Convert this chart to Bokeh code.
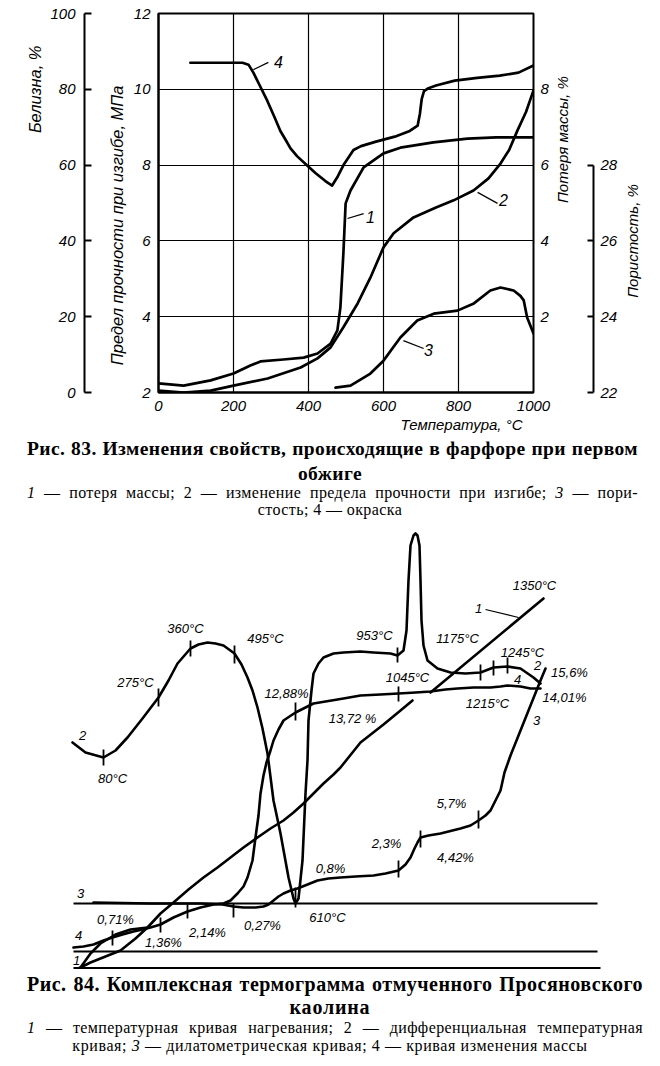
from math import pi
from bokeh.plotting import figure
from bokeh.models import Range1d, LinearAxis, FixedTicker, Div, Title
from bokeh.core.properties import value
from bokeh.embed import file_html
from bokeh.resources import INLINE

FONT = "Liberation Sans"

# ---------------- Fig. 83 data ----------------
temp_ticks = [0, 200, 400, 600, 800, 1000]
strength_ticks = [2, 4, 6, 8, 10, 12]
whiteness_ticks = [0, 20, 40, 60, 80, 100]
loss_ticks = [2, 4, 6, 8]
porosity_ticks = [22, 24, 26, 28]

# 1 - mass loss, %
loss_t = [0, 67, 139, 200, 245, 272, 333, 387, 424, 459, 477, 485, 493, 499, 512, 547, 600, 645, 733, 824, 900, 1000]
loss_v = [0.24, 0.18, 0.32, 0.5, 0.71, 0.82, 0.87, 0.92, 1.03, 1.29, 1.64, 2.24, 3.67, 4.99, 5.33, 5.94, 6.31, 6.46, 6.6, 6.7, 6.73, 6.73]
# 2 - bending strength, MPa
str_t = [0, 67, 139, 200, 291, 379, 424, 459, 493, 531, 565, 600, 627, 680, 740, 787, 840, 880, 912, 935, 957, 980, 1000]
str_v = [2.05, 2.0, 2.05, 2.18, 2.37, 2.66, 2.9, 3.19, 3.72, 4.35, 5.03, 5.83, 6.2, 6.62, 6.88, 7.07, 7.33, 7.65, 8.04, 8.4, 8.91, 9.4, 9.97]
# 3 - porosity, %
por_t = [472, 512, 565, 600, 645, 690, 734, 797, 841, 885, 912, 947, 965, 974, 983, 1000]
por_v = [22.13, 22.18, 22.5, 22.84, 23.45, 23.9, 24.08, 24.16, 24.35, 24.69, 24.77, 24.69, 24.55, 24.43, 23.98, 23.56]
# 4 - colour (whiteness), %
wh_t = [85, 150, 224, 240, 253, 270, 290, 310, 325, 340, 352, 370, 395, 420, 445, 463, 478, 495, 520, 540, 580, 630, 670, 691, 697, 702, 708, 720, 740, 790, 850, 910, 960, 1000]
wh_v = [87, 87, 87, 86.5, 84.4, 81, 77, 72.5, 69, 66.5, 64.4, 62.3, 60, 57.8, 55.8, 54.6, 57, 60.3, 64, 65, 66.2, 67.5, 69, 70.4, 73.5, 77.5, 79.5, 80.3, 81, 82.3, 83, 83.6, 84.4, 86.3]

# curve number labels (temperature, MPa scale)
num_text = ["4", "1", "2", "3"]
num_t = [320, 565, 920, 720]
num_v = [10.71, 6.62, 7.07, 3.11]
lead_t = [[253, 293], [504, 547], [851, 904], [653, 707]]
lead_v = [[10.52, 10.71], [6.59, 6.72], [7.28, 6.99], [3.37, 3.16]]

p1 = figure(width=660, height=437, x_range=Range1d(0, 1000), y_range=Range1d(0, 100),
            output_backend="svg", toolbar_location=None,
            min_border_left=158, min_border_right=127, min_border_top=13, min_border_bottom=45)
p1.extra_y_ranges = {"mpa": Range1d(2, 12), "loss": Range1d(0, 10), "por": Range1d(22, 32)}
p1.outline_line_color = "black"
p1.outline_line_width = 2


def style_axis(ax, standoff):
    ax.major_label_text_font = FONT
    ax.major_label_text_font_style = "italic"
    ax.major_label_text_font_size = "15px"
    ax.major_label_text_color = "black"
    ax.major_label_standoff = standoff
    ax.axis_line_color = "black"
    ax.axis_line_width = 2
    ax.major_tick_line_color = "black"
    ax.major_tick_line_width = 2
    ax.major_tick_out = 0
    ax.major_tick_in = 0
    ax.minor_tick_out = 0
    ax.minor_tick_in = 0


def label_axis(side, text, standoff, range_name=None, orient=None, size="15px"):
    kw = dict(ticker=FixedTicker(ticks=[]), axis_line_color=None,
              major_tick_out=0, major_tick_in=0, minor_tick_out=0, minor_tick_in=0,
              major_label_standoff=0, axis_label=text, axis_label_standoff=standoff,
              axis_label_text_font=FONT, axis_label_text_font_style="italic",
              axis_label_text_font_size=size, axis_label_text_color="black")
    if range_name is not None:
        kw["y_range_name"] = range_name
    ax = LinearAxis(**kw)
    if orient is not None:
        try:
            ax.axis_label_orientation = orient
        except Exception:
            pass
    p1.add_layout(ax, side)
    return ax


def tick_label_axis(side, text, at, standoff, range_name, orient):
    # an axis carrying a single tick label, used as a positioned title
    ax = LinearAxis(y_range_name=range_name, ticker=FixedTicker(ticks=[at]), axis_line_color=None,
                    major_tick_out=0, major_tick_in=0, minor_tick_out=0, minor_tick_in=0,
                    major_label_standoff=standoff, major_label_overrides={at: text},
                    major_label_orientation=orient, major_label_text_font=FONT,
                    major_label_text_font_style="italic", major_label_text_font_size="15px",
                    major_label_text_color="black")
    p1.add_layout(ax, side)
    return ax


def side_title(text, side, align, offset, standoff, size="15px"):
    t = Title(text=text, align=align, offset=offset, standoff=standoff, vertical_align="bottom",
              text_font=FONT, text_font_style="italic", text_font_size=size, text_color="black")
    p1.add_layout(t, side)
    return t


# x axis + its title
xa = p1.xaxis[0]
xa.ticker = FixedTicker(ticks=temp_ticks)
style_axis(xa, 8)
side_title("Температура, °C", "below", "right", 11, 1)

# left side: strength axis, its title, spacer, whiteness axis, its title
wax = p1.yaxis[0]
wax.ticker = FixedTicker(ticks=whiteness_ticks)
style_axis(wax, 9)
wax.major_tick_in = 7
ya = LinearAxis(y_range_name="mpa", ticker=FixedTicker(ticks=strength_ticks))
style_axis(ya, 8)
p1.add_layout(ya, "left")
t_mpa = side_title("Предел прочности при изгибе, МПа", "left", "right", 72, 10, "16.5px")
spacer = label_axis("left", " ", 11, size="2px")
t_wh = side_title("Белизна, %", "left", "right", 32, 8, "16.5px")
p1.left = [ya, t_mpa, spacer, wax, t_wh]

# right side: mass-loss ticks, its title, spacer, porosity axis, its title
lax = LinearAxis(y_range_name="loss", ticker=FixedTicker(ticks=loss_ticks))
style_axis(lax, 7)
lax.axis_line_color = None
p1.add_layout(lax, "right")
label_axis("right", "Потеря массы, %", 11, range_name="loss", orient=pi / 2)
label_axis("right", " ", 6, size="2px", range_name="loss")
pax = LinearAxis(y_range_name="por", ticker=FixedTicker(ticks=porosity_ticks), bounds=(22, 28))
style_axis(pax, 7)
pax.major_tick_in = 6
p1.add_layout(pax, "right")
tick_label_axis("right", "Пористость, %", 24.5, 12, "por", pi / 2)

p1.xgrid.ticker = FixedTicker(ticks=temp_ticks)
p1.ygrid.ticker = FixedTicker(ticks=whiteness_ticks)
for g in (p1.xgrid[0], p1.ygrid[0]):
    g.grid_line_color = "black"
    g.grid_line_width = 1.2
    g.grid_line_alpha = 1

lw = 2.7
p1.line(loss_t, loss_v, y_range_name="loss", line_color="black", line_width=lw, line_join="round", line_cap="round")
p1.line(str_t, str_v, y_range_name="mpa", line_color="black", line_width=lw, line_join="round", line_cap="round")
p1.line(por_t, por_v, y_range_name="por", line_color="black", line_width=lw, line_join="round", line_cap="round")
p1.line(wh_t, wh_v, line_color="black", line_width=lw, line_join="round", line_cap="round")
p1.multi_line(lead_t, lead_v, y_range_name="mpa", line_color="black", line_width=1.2)
p1.text(x=num_t, y=num_v, text=num_text, y_range_name="mpa", text_font=value(FONT), text_font_style="italic",
        text_font_size="16px", text_align="center", text_baseline="middle", text_color="black")

# ---------------- Fig. 84 data (diagram units, no scales) ----------------
# 1 - heating temperature curve
t1a_x = [5, 17, 27, 47, 62, 74, 87, 100, 115, 130, 144, 157, 170, 184, 197, 210, 220, 230, 240, 250, 260, 267, 287, 310, 327, 339]
t1a_y = [0, 6, 10, 18, 30, 41, 55, 66, 79, 91, 101, 111, 121, 131, 140, 148, 156, 165, 175, 185, 194, 201, 226, 244, 258, 268]
t1b_x = [357, 470]
t1b_y = [276, 370]
t1c_x = [7, 17, 27, 42, 57, 74]
t1c_y = [1, 15, 25, 34, 39, 41]
# 2 - differential (DTA) curve
dta_x = [-1, 12, 30, 42, 54, 69, 85, 95, 104, 117, 125, 134, 142, 150, 161, 168, 174, 179, 184, 189, 194, 200, 207, 215, 220, 222, 225, 229, 232, 234, 235, 238, 240, 245, 250, 260, 270, 287, 300, 317, 324, 330, 333, 335, 337, 340, 342, 344, 346, 347, 348, 350, 354, 364, 377, 392, 407, 420, 434, 447, 460, 467]
dta_y = [226, 216, 211, 218, 231, 250, 271, 288, 305, 320, 324, 326, 325, 323, 315, 304, 291, 278, 261, 240, 215, 168, 135, 91, 70, 65, 70, 108, 175, 208, 248, 278, 295, 305, 311, 315, 316, 317, 316, 315, 313, 318, 338, 388, 423, 433, 435, 433, 423, 388, 348, 323, 308, 300, 296, 295, 296, 301, 302, 300, 291, 285]
# 3 - dilatometric curve
dil_x = [20, 77, 127, 149, 160, 170, 182, 190, 195, 200, 205, 210, 217, 224, 234, 244, 255, 267, 282, 300, 312, 325, 332, 337, 341, 344, 347, 355, 367, 387, 397, 405, 412, 417, 422, 427, 431, 437, 447, 457, 467, 472]
dil_y = [66, 65, 65, 64, 62, 61, 61, 62, 64, 68, 72, 75, 78, 80, 84, 88, 90, 91, 92, 93, 95, 98, 104, 111, 120, 126, 131, 133, 135, 140, 143, 148, 153, 158, 168, 178, 196, 213, 238, 263, 288, 300]
# 4 - mass change curve
mass_x = [0, 10, 20, 30, 39, 49, 60, 69, 77, 87, 100, 114, 127, 140, 150, 157, 164, 170, 174, 179, 182, 185, 187, 190, 193, 197, 200, 205, 210, 222, 240, 270, 287, 307, 325, 342, 357, 372, 384, 400, 417, 427, 434, 447, 457, 467]
mass_y = [21, 22, 24, 28, 31, 34, 37, 39, 41, 44, 51, 57, 61, 64, 65, 68, 75, 82, 91, 108, 131, 153, 175, 193, 206, 218, 228, 239, 248, 256, 265, 270, 273, 274, 275, 276, 277, 279, 280, 281, 281, 282, 283, 282, 280, 280]
# reference lines
ref_x = [[0, 524], [0, 524], [0, 527]]
ref_y = [[65, 65], [17, 17], [0.5, 0.5]]
# marks on the curves
mark_x = [30, 85, 117, 161, 222, 324, 407, 420, 434, 39, 87, 114, 222, 325, 160, 325, 347, 405]
mark_y0 = [203, 262, 312, 305, 61, 306, 288, 293, 295, 23, 36, 50, 248, 267, 51, 91, 121, 140]
mark_y1 = [219, 280, 328, 323, 81, 321, 304, 308, 311, 38, 51, 64, 266, 282, 65, 108, 138, 158]
# annotations
ann_text = ["2", "80°C", "275°C", "360°C", "495°C", "12,88%", "13,72 %", "953°C", "1045°C", "1175°C",
            "1245°C", "1350°C", "1", "2", "15,6%", "4", "14,01%", "1215°C", "3", "5,7%", "2,3%",
            "4,42%", "0,8%", "610°C", "3", "0,71%", "1,36%", "2,14%", "0,27%", "4", "1"]
ann_x = [9, 39, 62, 112, 192, 213, 279, 301, 334, 384, 449, 461, 405, 464, 496, 444, 491, 414, 463,
         378, 313, 382, 257, 254, 7, 42, 90, 134, 189, 5, 3]
ann_y = [233, 190, 286, 340, 330, 275, 250, 333, 291, 330, 316, 383, 360, 303, 296, 289, 271, 265, 248,
         165, 125, 111, 100, 51, 75, 49, 26, 36, 43, 33, 8]
lead2_x = [412, 445]
lead2_y = [359, 351]

p2 = figure(width=660, height=449, x_range=Range1d(-73, 587), y_range=Range1d(-1, 448),
            x_axis_type=None, y_axis_type=None, output_backend="svg", toolbar_location=None,
            min_border=0, outline_line_color=None)
lw2 = 2.6
p2.multi_line(ref_x, ref_y, line_color="black", line_width=2.2)
for xs, ys in ((t1a_x, t1a_y), (t1b_x, t1b_y), (t1c_x, t1c_y), (dta_x, dta_y), (dil_x, dil_y), (mass_x, mass_y)):
    p2.line(xs, ys, line_color="black", line_width=lw2, line_join="round", line_cap="round")
p2.segment(x0=mark_x, y0=mark_y0, x1=mark_x, y1=mark_y1, line_color="black", line_width=1.8)
p2.line(lead2_x, lead2_y, line_color="black", line_width=1.2)
p2.text(x=ann_x, y=ann_y, text=ann_text, text_font=value(FONT), text_font_style="italic",
        text_font_size="13px", text_align="center", text_baseline="middle", text_color="black")

# ---------------- captions ----------------
J = "text-align:justify;text-align-last:justify;"
C = "text-align:center;"


def cap_line(center, lh, size, bold, text, align, left, right, ls):
    return ("<div style=\"position:absolute;left:%dpx;right:%dpx;top:%.1fpx;height:%dpx;line-height:%dpx;"
            "font-size:%.1fpx;font-weight:%s;letter-spacing:%.1fpx;white-space:normal;%s\">%s</div>"
            % (left, right, center - lh / 2, lh, lh, size, "bold" if bold else "normal", ls, align, text))


def caption(height, lines):
    return ("<div style=\"position:relative;width:660px;height:%dpx;font-family:'Liberation Serif',serif;color:#000;\">"
            % height + "".join(lines) + "</div>")


cap1 = caption(73, [
    cap_line(7, 14, 19.5, True, "Рис. 83. Изменения свойств, происходящие в фарфоре при первом", J, 22, 27, 0.4),
    cap_line(31.5, 20, 19.5, True, "обжиге", C, 0, 10, 0.4),
    cap_line(50.5, 16, 16, False, "<i>1</i> — потеря массы; 2 — изменение предела прочности при изгибе; <i>3</i> — пори-", J, 22, 27, 0.4),
    cap_line(67.5, 10, 16, False, "стость; 4 — окраска", C, 0, 10, 0.4),
])
cap2 = caption(91, [
    cap_line(10, 20, 20, True, "Рис. 84. Комплексная термограмма отмученного Просяновского", J, 22, 22, 0.5),
    cap_line(33, 22, 20, True, "каолина", C, 0, 10, 0.8),
    cap_line(54, 18, 16, False, "<i>1</i> — температурная кривая нагревания; 2 — дифференциальная температурная", J, 22, 22, 0.4),
    cap_line(72, 18, 16, False, "кривая; <i>3</i> — дилатометрическая кривая; 4 — кривая изменения массы", C, 0, 10, 0.6),
])
d1 = Div(text=cap1, width=660, height=73)
d2 = Div(text=cap2, width=660, height=91)

open("out.html", "w").write(file_html([p1, d1, p2, d2], INLINE))
